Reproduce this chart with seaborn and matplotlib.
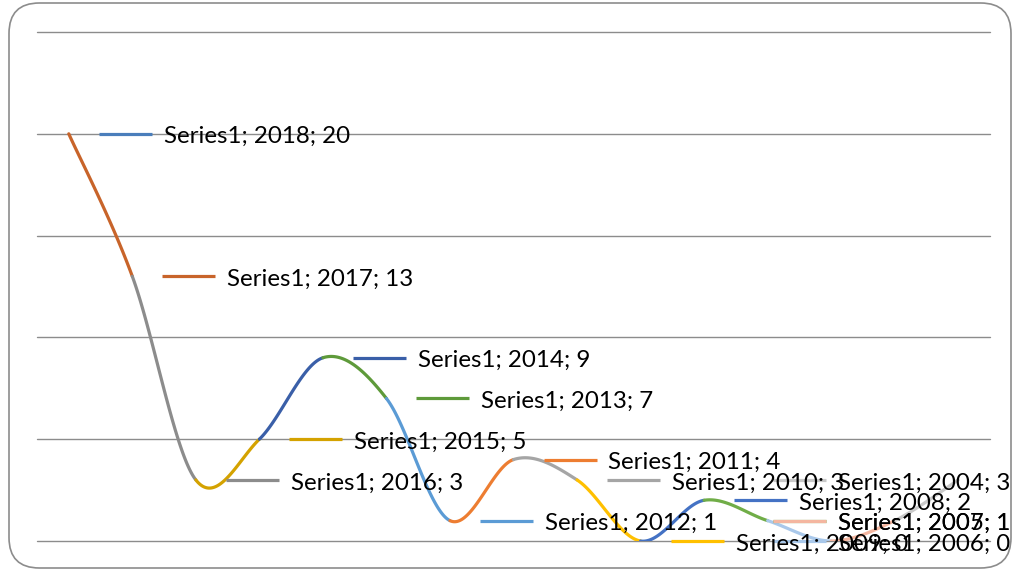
import numpy as np
import pandas as pd
import matplotlib
matplotlib.use("Agg")
import matplotlib.pyplot as plt
import matplotlib.transforms as mtransforms
from matplotlib.patches import FancyBboxPatch
import seaborn as sns

years = ["2018", "2017", "2016", "2015", "2014", "2013", "2012", "2011",
         "2010", "2009", "2008", "2007", "2006", "2005", "2004"]
values = [20, 13, 3, 5, 9, 7, 1, 4, 3, 0, 2, 1, 0, 1, 3]
series_name = "Series1"
point_colors = ["#4a7ebb", "#c8642a", "#8c8c8c", "#d4a200", "#3a5fa8", "#5e9a3a",
                "#5b9bd5", "#ed7d31", "#a5a5a5", "#ffc000", "#4472c4", "#70ad47",
                "#a9c8ea", "#f4b6a0", "#c9c9c9"]
grid_values = [0, 5, 10, 15, 20, 25]

sns.set_theme(style="white")
plt.rcParams["font.family"] = ["Lato", "DejaVu Sans"]

fig = plt.figure(figsize=(10.14, 5.72), dpi=100)
ax = fig.add_axes([37 / 1014, 1 - 541 / 572, 953 / 1014, 509 / 572])

# smoothed line (catmull-rom, like excel's smoothed line), one colour per segment
xs = np.arange(len(values), dtype=float)
ys = np.array(values, dtype=float)
px = np.concatenate([[xs[0]], xs, [xs[-1]]])
py = np.concatenate([[ys[0]], ys, [ys[-1]]])
rows = []
t = np.linspace(0, 1, 60)
for i in range(len(values) - 1):
    p0 = np.array([px[i], py[i]])
    p1 = np.array([px[i + 1], py[i + 1]])
    p2 = np.array([px[i + 2], py[i + 2]])
    p3 = np.array([px[i + 3], py[i + 3]])
    c1 = p1 + (p2 - p0) / 6
    c2 = p2 - (p3 - p1) / 6
    for tt in t:
        b = ((1 - tt) ** 3) * p1 + 3 * ((1 - tt) ** 2) * tt * c1 + 3 * (1 - tt) * tt ** 2 * c2 + tt ** 3 * p2
        rows.append({"x": b[0], "y": b[1], "seg": years[i + 1]})
curve = pd.DataFrame(rows)

for g in grid_values:
    ax.axhline(g, color="#8c8c8c", linewidth=1, clip_on=False, zorder=0)

sns.lineplot(data=curve, x="x", y="y", hue="seg", palette=dict(zip(years, point_colors)),
             sort=False, estimator=None, legend=False, linewidth=2.3, ax=ax)

ax.set_xlim(-0.5, len(values) - 0.5)
ax.set_ylim(0, 25)
ax.set_xticks([])
ax.set_yticks([])
ax.set_xlabel("")
ax.set_ylabel("")
for s in ax.spines.values():
    s.set_visible(False)

# data labels with leader lines
labels = []
for i, (yr, v) in enumerate(zip(years, values)):
    ln, = ax.plot([i, i], [v, v], color=point_colors[i], linewidth=2.3, solid_capstyle="butt",
                  clip_on=False)
    txt = ax.text(i, v, f"{series_name}; {yr}; {v}", fontsize=17.4, color="black",
                  va="center", ha="left", clip_on=False)
    labels.append((i, v, ln, txt))

fig.canvas.draw()
renderer = fig.canvas.get_renderer()
for i, v, ln, txt in labels:
    shift = 0
    txt.set_transform(mtransforms.offset_copy(ax.transData, fig, x=95, y=-3, units="dots"))
    bb = txt.get_window_extent(renderer)
    if bb.x1 > 1010:
        shift = bb.x1 - 1010
    txt.set_transform(mtransforms.offset_copy(ax.transData, fig, x=95 - shift, y=-3, units="dots"))
    x0 = ax.transData.transform((i, v))[0] + 30 - shift
    xa = ax.transData.inverted().transform((x0, 0))[0]
    xb = ax.transData.inverted().transform((x0 + 53, 0))[0]
    ln.set_xdata([xa, xb])

border = FancyBboxPatch((9 / 1014, 4 / 572), 1002 / 1014, 565 / 572,
                        boxstyle="round,pad=0,rounding_size=0.03", transform=fig.transFigure,
                        facecolor="none", edgecolor="#8c8c8c", linewidth=1.2,
                        mutation_aspect=1014 / 572)
fig.patches.append(border)

fig.savefig("out.png", dpi=100)
